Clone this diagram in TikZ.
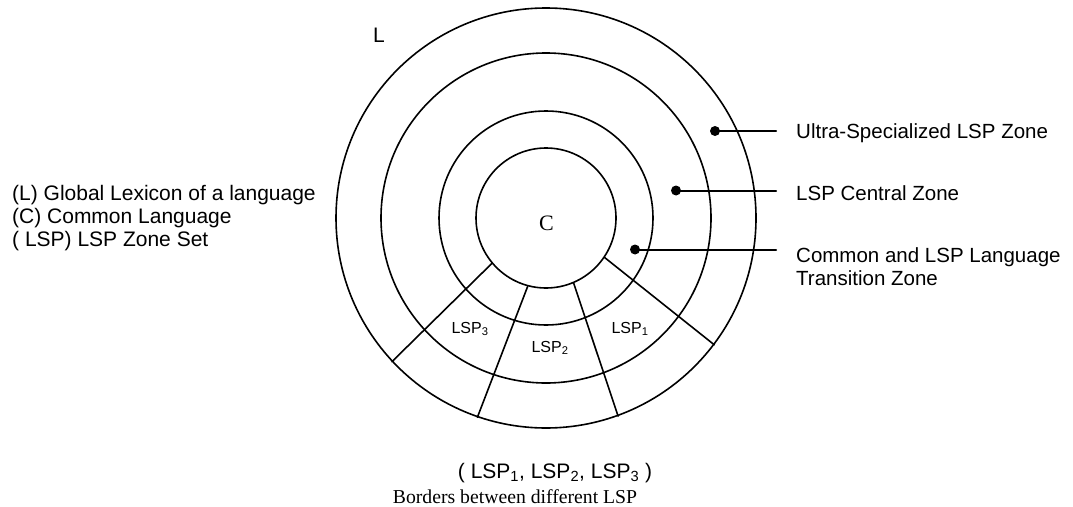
\documentclass[tikz,border=0pt]{standalone}
\usepackage{fontspec}
\setmainfont{Liberation Sans}
\newfontfamily\timesfont{Liberation Serif}
\begin{document}
\begin{tikzpicture}[x=1pt, y=-1pt, line cap=round, line join=round,
	ring/.style={circle, draw=black, line width=1.6pt, inner sep=0pt},
	dot/.style={circle, fill=black, inner sep=0pt, minimum size=10pt},
	leader/.style={draw=black, line width=2pt, shorten >=20pt},
	zonetext/.style={anchor=west, inner sep=0pt, align=left, font=\fontsize{20.5}{23.3}\selectfont}]
						\useasboundingbox (0, 0) rectangle (1073, 506);
						% Zone rings
						\foreach \r [count=\x] in {140, 214, 330, 420}
							\node [ring, minimum size=\r pt] (ring-\x) at (546, 218) {};
						\node [font=\fontsize{21}{21}\selectfont] (lexicon) at (379, 35) {L};
						\node [font=\timesfont\fontsize{22}{22}\selectfont] (common) at (546.5, 223) {C};
						% Borders between LSP
						\foreach \a/\b in {220/223, 255/251, 293/290, 326/323}
							\draw [line width=1.6pt] (ring-1.\a) -- (ring-4.\b);
						\foreach \n/\u/\v in {3/470/329, 2/550/348, 1/630/329}
							\node [font=\fontsize{16}{16}\selectfont] (lsp-\n) at (\u, \v) {LSP\textsubscript{\n}};
						% Zone labels
						\node [dot] (dot-1) at (715, 131) {};
						\node [dot] (dot-2) at (676, 190.5) {};
						\node [dot] (dot-3) at (635, 249.5) {};
						\node [zonetext] (zone-1) at (796, 133) {Ultra-Specialized LSP Zone};
						\node [zonetext] (zone-2) at (796, 193) {LSP Central Zone};
						\node [zonetext, anchor=north west] (zone-3) at (796, 247) {Common and LSP Language\\Transition Zone};
						\foreach \a in {1, 2, 3}
							\draw [leader] (dot-\a.center) -- (dot-\a.center -| zone-\a.west);
						% Legend
						\node [zonetext, font=\fontsize{21}{23.3}\selectfont] (legend) at (12, 218) {(L) Global Lexicon of a language\\(C) Common Language\\( LSP) LSP Zone Set};
						\node [font=\fontsize{21}{21}\selectfont] (lsp-set) at (555, 473) {( LSP\textsubscript{1}, LSP\textsubscript{2}, LSP\textsubscript{3} )};
						\node [font=\timesfont\fontsize{19.7}{19.7}\selectfont] (borders) at (515, 497) {Borders between different LSP};
					\end{tikzpicture}
\end{document}
